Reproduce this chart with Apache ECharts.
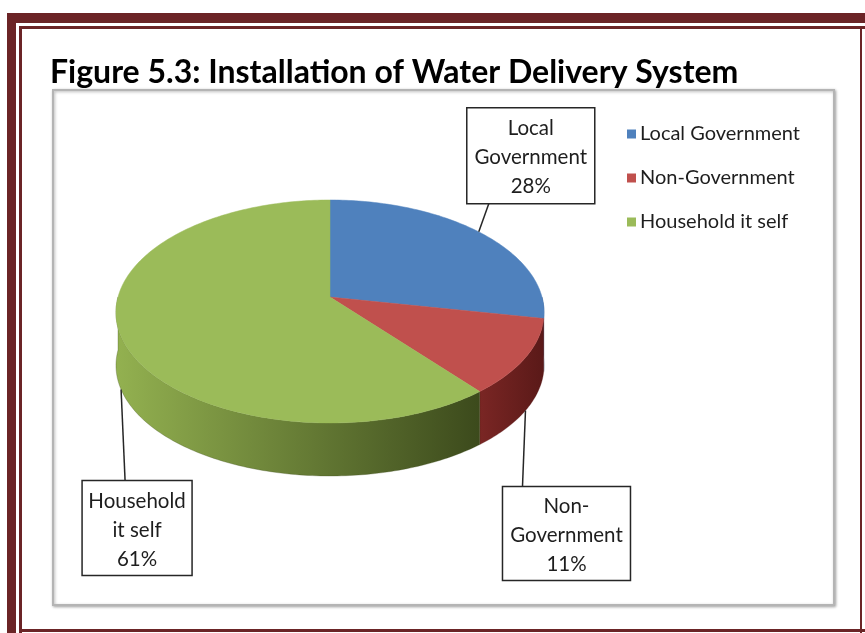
<!DOCTYPE html>
<html>
<head>
<meta charset="utf-8">
<script src="https://cdn.jsdelivr.net/npm/echarts@6/dist/echarts.min.js"></script>
<style>
html, body { margin: 0; padding: 0; background: #fff; }
#main { width: 865px; height: 633px; }
</style>
</head>
<body>
<div id="main"></div>
<script>
// data
const categories = ['Local Government', 'Non-Government', 'Household it self'];
const labelLines = [['Local', 'Government'], ['Non-', 'Government'], ['Household', 'it self']];
const shares = [28, 11, 61];

const topColors = ['#4f81bd', '#c0504d', '#9bbb59'];
const sideColors = [['#3e6696', '#2d4b72'], ['#7a2624', '#5a1918'], ['#93b150', '#3c4a1c']];

// tilted disk projection, in pie radius units
const TILT = 0.526, BULGE = 0.068, PERSP = 0.14, DEPTH = 0.25;
const FONT = 'Lato, "Open Sans", sans-serif';
const FRAME = '#6b2426';

// label boxes: leader offset from rim anchor, box left from leader end (px)
const labelBoxes = [
  { lead: [10, -28], left: -22, width: 128, height: 96 },
  { lead: [-3, 76], left: -20, width: 128, height: 94 },
  { lead: [4, 91], left: -43, width: 110, height: 95 }
];

const total = shares.reduce((a, b) => a + b, 0);
const slices = [];
let acc = 90;
shares.forEach((v, i) => {
  const sweep = v / total * 360;
  slices.push([acc, acc - sweep, v, i]);
  acc -= sweep;
});

function rim(deg, drop) {
  const t = deg * Math.PI / 180, s = Math.sin(t);
  return [Math.cos(t) * (1 - PERSP * s), TILT * s - BULGE * s * s - (drop || 0)];
}

function arc(api, a0, a1, drop) {
  const pts = [];
  const n = Math.max(2, Math.ceil(Math.abs(a0 - a1)));
  for (let k = 0; k <= n; k++) pts.push(api.coord(rim(a0 + (a1 - a0) * k / n, drop)));
  return pts;
}

function renderSide(params, api) {
  const a0 = api.value(0), a1 = api.value(1), i = api.value(3);
  const hi = Math.min(a0, 0), lo = Math.max(a1, -180);
  if (hi <= lo) return null;
  const pts = arc(api, hi, lo, 0).concat(arc(api, lo, hi, DEPTH));
  return {
    type: 'polygon',
    shape: { points: pts },
    style: {
      fill: new echarts.graphic.LinearGradient(0, 0, 1, 0, [
        { offset: 0, color: sideColors[i][0] },
        { offset: 1, color: sideColors[i][1] }
      ]),
      stroke: sideColors[i][1],
      lineWidth: 0.3
    }
  };
}

function renderTop(params, api) {
  const a0 = api.value(0), a1 = api.value(1), v = api.value(2), i = api.value(3);
  const pts = [api.coord([0, 0])].concat(arc(api, a0, a1, 0));
  const mid = (a0 + a1) / 2;
  const front = Math.sin(mid * Math.PI / 180) < 0;
  const anchor = api.coord(rim(mid, front ? DEPTH : 0));
  const lb = labelBoxes[i];
  const end = [anchor[0] + lb.lead[0], anchor[1] + lb.lead[1]];
  const boxTop = lb.lead[1] < 0 ? end[1] - lb.height : end[1];
  const boxLeft = end[0] + lb.left;
  const pct = Math.round(v / total * 100) + '%';
  return {
    type: 'group',
    children: [
      { type: 'polygon', shape: { points: pts }, style: { fill: topColors[i], stroke: topColors[i], lineWidth: 0.5 } },
      { type: 'line', shape: { x1: anchor[0], y1: anchor[1], x2: end[0], y2: end[1] }, style: { stroke: '#262626', lineWidth: 1.5 } },
      { type: 'rect', shape: { x: boxLeft, y: boxTop, width: lb.width, height: lb.height },
        style: { fill: '#fff', stroke: '#262626', lineWidth: 1.5 } },
      { type: 'text', style: {
          text: labelLines[i].concat(pct).join('\n'),
          x: boxLeft + lb.width / 2, y: boxTop + lb.height / 2 + 2,
          align: 'center', verticalAlign: 'middle',
          font: '20.5px ' + FONT, lineHeight: 29, fill: '#1e1e1e'
        } }
    ]
  };
}

const series = [{
  type: 'custom',
  name: 'sides',
  silent: true,
  z: 2,
  data: slices,
  renderItem: renderSide
}];
categories.forEach((name, i) => {
  series.push({
    type: 'custom',
    name: name,
    silent: true,
    z: 3,
    itemStyle: { color: topColors[i] },
    data: [slices[i]],
    renderItem: renderTop
  });
});

const myChart = echarts.init(document.getElementById('main'));
myChart.setOption({
  animation: false,
  backgroundColor: '#fff',
  title: {
    text: 'Figure 5.3: Installation of Water Delivery System',
    left: 50,
    top: 57,
    padding: 0,
    textStyle: { fontFamily: FONT, fontWeight: 'bold', fontSize: 32, color: '#000' }
  },
  legend: {
    data: categories,
    orient: 'vertical',
    left: 622,
    top: 119,
    icon: 'rect',
    itemWidth: 9,
    itemHeight: 9,
    itemGap: 24,
    selectedMode: false,
    textStyle: { fontFamily: FONT, fontSize: 20, color: '#1e1e1e', lineHeight: 20, padding: [0, 0, 0, -1] }
  },
  grid: { left: 118, top: 200, width: 424, height: 276 },
  xAxis: { type: 'value', min: -1, max: 1, show: false },
  yAxis: { type: 'value', min: -(TILT + BULGE + DEPTH), max: TILT - BULGE, show: false },
  graphic: [
    // page frame
    { type: 'rect', z: -20, shape: { x: 7, y: 13, width: 870, height: 10 }, style: { fill: FRAME } },
    { type: 'rect', z: -20, shape: { x: 7, y: 13, width: 9, height: 630 }, style: { fill: FRAME } },
    { type: 'rect', z: -20, shape: { x: 19, y: 26, width: 850, height: 3 }, style: { fill: FRAME } },
    { type: 'rect', z: -20, shape: { x: 19, y: 26, width: 3, height: 610 }, style: { fill: FRAME } },
    { type: 'rect', z: -20, shape: { x: 860, y: 26, width: 2, height: 610 }, style: { fill: FRAME } },
    { type: 'rect', z: -20, shape: { x: 19, y: 629, width: 850, height: 3 }, style: { fill: FRAME } },
    // chart area box
    { type: 'rect', z: -10, shape: { x: 53, y: 90, width: 781, height: 515 },
      style: { fill: '#fff', stroke: '#b4b4b4', lineWidth: 2, shadowBlur: 3, shadowOffsetX: 1, shadowOffsetY: 1, shadowColor: 'rgba(0,0,0,0.3)' } }
  ],
  series: series
});
</script>
</body>
</html>
